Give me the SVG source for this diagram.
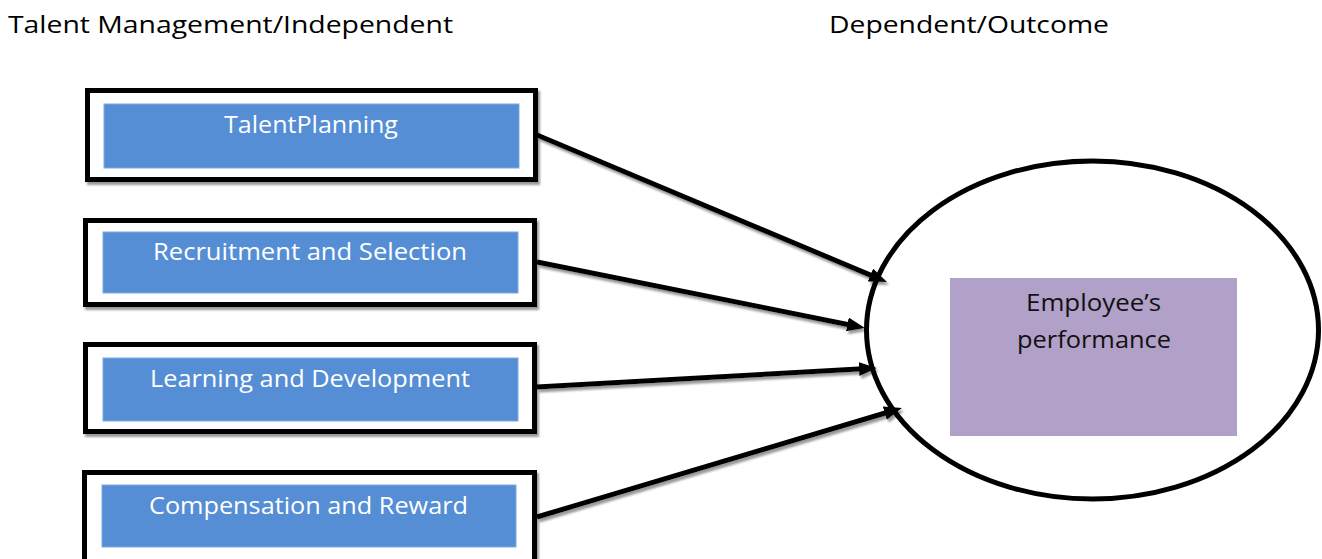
<svg xmlns="http://www.w3.org/2000/svg" width="1322" height="559" viewBox="0 0 1322 559">
<style>
  .hdr { font-family: "Open Sans", "Noto Sans", "Liberation Sans", sans-serif; font-size: 24px; fill: #000; }
  .lbl { font-family: "Open Sans", "Noto Sans", "Liberation Sans", sans-serif; font-size: 24px; fill: #ffffff; }
  .dep { font-family: "Open Sans", "Noto Sans", "Liberation Sans", sans-serif; font-size: 24px; fill: #111; }
  .outer { fill: #ffffff; stroke: #000; stroke-width: 5; }
  .inner { fill: #558ed5; stroke: #7ea9e0; stroke-width: 1; }
  .conn { stroke: #000; stroke-width: 5; fill: none; marker-end: url(#arrow); }
</style>
<defs>
  <marker id="arrow" markerUnits="userSpaceOnUse" markerWidth="20" markerHeight="16" refX="4" refY="7" orient="auto">
    <path d="M0,0 L18,7 L0,14 z" fill="#000"/>
  </marker>
  <filter id="shadow" filterUnits="userSpaceOnUse" x="0" y="0" width="1322" height="559">
    <feDropShadow dx="2" dy="3" stdDeviation="0.8" flood-color="#808080" flood-opacity="0.8"/>
  </filter>
</defs>
<rect width="1322" height="559" fill="#ffffff"/>

<text class="hdr" x="8" y="33" textLength="445" lengthAdjust="spacingAndGlyphs">Talent Management/Independent</text>
<text class="hdr" x="829" y="33" textLength="280" lengthAdjust="spacingAndGlyphs">Dependent/Outcome</text>

<g id="talent-planning">
  <rect class="outer" x="87.5" y="90.5" width="448" height="89" filter="url(#shadow)"/>
  <rect class="inner" x="104" y="104" width="415" height="64"/>
  <text class="lbl" x="224" y="133" textLength="174" lengthAdjust="spacingAndGlyphs">TalentPlanning</text>
</g>
<g id="recruitment-selection">
  <rect class="outer" x="85.5" y="220.5" width="449" height="84" filter="url(#shadow)"/>
  <rect class="inner" x="103" y="232" width="415" height="61"/>
  <text class="lbl" x="153" y="260" textLength="314" lengthAdjust="spacingAndGlyphs">Recruitment and Selection</text>
</g>
<g id="learning-development">
  <rect class="outer" x="85.5" y="344.5" width="449" height="87" filter="url(#shadow)"/>
  <rect class="inner" x="103" y="358" width="415" height="63"/>
  <text class="lbl" x="150" y="387" textLength="320" lengthAdjust="spacingAndGlyphs">Learning and Development</text>
</g>
<g id="compensation-reward">
  <rect class="outer" x="84.5" y="472.5" width="450" height="95" filter="url(#shadow)"/>
  <rect class="inner" x="102" y="485" width="414" height="62"/>
  <text class="lbl" x="149" y="514" textLength="319" lengthAdjust="spacingAndGlyphs">Compensation and Reward</text>
</g>

<g id="connectors" filter="url(#shadow)">
  <line class="conn" x1="537" y1="135" x2="874.1" y2="276.6"/>
  <line class="conn" x1="537" y1="262" x2="851.3" y2="325.2"/>
  <line class="conn" x1="537" y1="387" x2="863.0" y2="368.8"/>
  <line class="conn" x1="537" y1="517" x2="888.6" y2="412.0"/>
</g>

<g id="employee-performance">
  <ellipse cx="1092.5" cy="330" rx="226" ry="169" fill="none" stroke="#000" stroke-width="5"/>
  <rect x="950" y="278" width="287" height="158" fill="#b1a0c7"/>
  <text class="dep" x="1026" y="311" textLength="135" lengthAdjust="spacingAndGlyphs">Employee’s</text>
  <text class="dep" x="1017" y="348" textLength="154" lengthAdjust="spacingAndGlyphs">performance</text>
</g>
</svg>
